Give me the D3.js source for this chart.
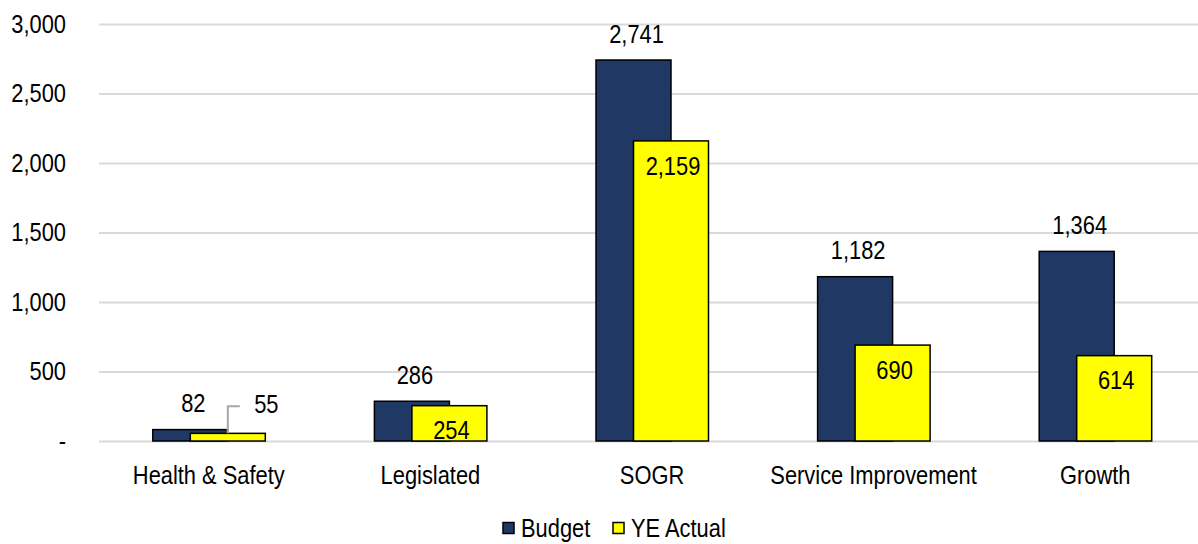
<!DOCTYPE html>
<html lang="en">
<head>
<meta charset="utf-8">
<script src="https://cdnjs.cloudflare.com/ajax/libs/d3/7.8.5/d3.min.js"></script>
<style>
  body { margin: 0; background: #fff; }
  svg { display: block; font-family: "Liberation Sans", Arial, sans-serif; }
</style>
</head>
<body>
<svg id="chart"></svg>
<script>
// data
var categories = ["Health & Safety", "Legislated", "SOGR", "Service Improvement", "Growth"];
var budget = [82, 286, 2741, 1182, 1364];
var ytdActual = [55, 254, 2159, 690, 614];
var yTicks = [0, 500, 1000, 1500, 2000, 2500, 3000];
var seriesNames = ["Budget", "YE Actual"];
var seriesColors = ["#203864", "#ffff00"];

var width = 1198, height = 544;
var svg = d3.select("#chart").attr("width", width).attr("height", height);

var x = d3.scaleBand().domain(categories).range([98, 1206]).padding(0);
var y = d3.scaleLinear().domain([0, 3000]).range([441, 24]);
var fmt = d3.format(",");
var barW = 75;
var K = 0.875; // squeeze text to look like a narrow font

// scale text horizontally, keeping its anchor point in place
function narrow(sel) {
  sel.each(function() {
    var t = d3.select(this);
    var x0 = +t.attr("x") || 0;
    t.attr("x", x0 / K).attr("transform", "scale(" + K + ",1)");
  });
}

// gridlines + y labels
var yAxis = d3.axisLeft(y).tickValues(yTicks)
  .tickSize(-(width - 99))
  .tickFormat(function(d) { return d === 0 ? "-" : fmt(d); });

var gy = svg.append("g").attr("transform", "translate(99,0)").call(yAxis);
gy.select(".domain").remove();
gy.selectAll(".tick line").attr("stroke", "#d9d9d9").attr("stroke-width", 2);
gy.selectAll(".tick text")
  .attr("x", -33)
  .attr("font-size", 25)
  .attr("fill", "#000")
  .attr("font-family", "Liberation Sans, Arial, sans-serif")
  .call(narrow);

// category labels
svg.append("g").selectAll("text")
  .data(categories).enter().append("text")
  .attr("x", function(d) { return x(d) + x.bandwidth() / 2; })
  .attr("y", 484)
  .attr("text-anchor", "middle")
  .attr("font-size", 25)
  .text(function(d) { return d; })
  .call(narrow);

// bars
function barX(i, s) {
  var c = x(categories[i]) + x.bandwidth() / 2;
  return s === 0 ? c - 56 : c - 18.5;
}

[budget, ytdActual].forEach(function(vals, s) {
  svg.append("g").selectAll("rect")
    .data(vals).enter().append("rect")
    .attr("x", function(d, i) { return barX(i, s); })
    .attr("y", function(d) { return y(d); })
    .attr("width", barW)
    .attr("height", function(d) { return y(0) - y(d); })
    .attr("fill", seriesColors[s])
    .attr("stroke", "#000")
    .attr("stroke-width", 1.5);
});

// budget labels above bars
svg.append("g").selectAll("text")
  .data(budget).enter().append("text")
  .attr("x", function(d, i) { return barX(i, 0) + barW / 2 + 3; })
  .attr("y", function(d) { return y(d) - 26; })
  .attr("dy", "0.35em")
  .attr("text-anchor", "middle")
  .attr("font-size", 25)
  .text(function(d) { return fmt(d); })
  .call(narrow);

// actual labels inside top of bars (first one is called out)
svg.append("g").selectAll("text")
  .data(ytdActual).enter().append("text")
  .attr("x", function(d, i) { return i === 0 ? barX(i, 1) + 76 : barX(i, 1) + barW / 2 + 2; })
  .attr("y", function(d, i) { return i === 0 ? y(d) - 29 : y(d) + 25; })
  .attr("dy", "0.35em")
  .attr("text-anchor", "middle")
  .attr("font-size", 25)
  .text(function(d) { return fmt(d); })
  .call(narrow);

// leader line for the small label
var lx = barX(0, 1) + barW / 2;
svg.append("path")
  .attr("d", "M" + lx + "," + y(ytdActual[0]) + "V" + (y(ytdActual[0]) - 27) + "H" + (lx + 12))
  .attr("fill", "none")
  .attr("stroke", "#a6a6a6")
  .attr("stroke-width", 2);

// legend
var legend = svg.append("g").attr("transform", "translate(503,528)");
var legX = [0, 110];
seriesNames.forEach(function(name, i) {
  var g = legend.append("g").attr("transform", "translate(" + legX[i] + ",0)");
  g.append("rect").attr("x", 0).attr("y", -5.5).attr("width", 11).attr("height", 11)
    .attr("fill", seriesColors[i]).attr("stroke", "#000").attr("stroke-width", 1.5);
  g.append("text").attr("x", 18).attr("y", 0).attr("dy", "0.35em")
    .attr("font-size", 25).text(name).call(narrow);
});
</script>
</body>
</html>
